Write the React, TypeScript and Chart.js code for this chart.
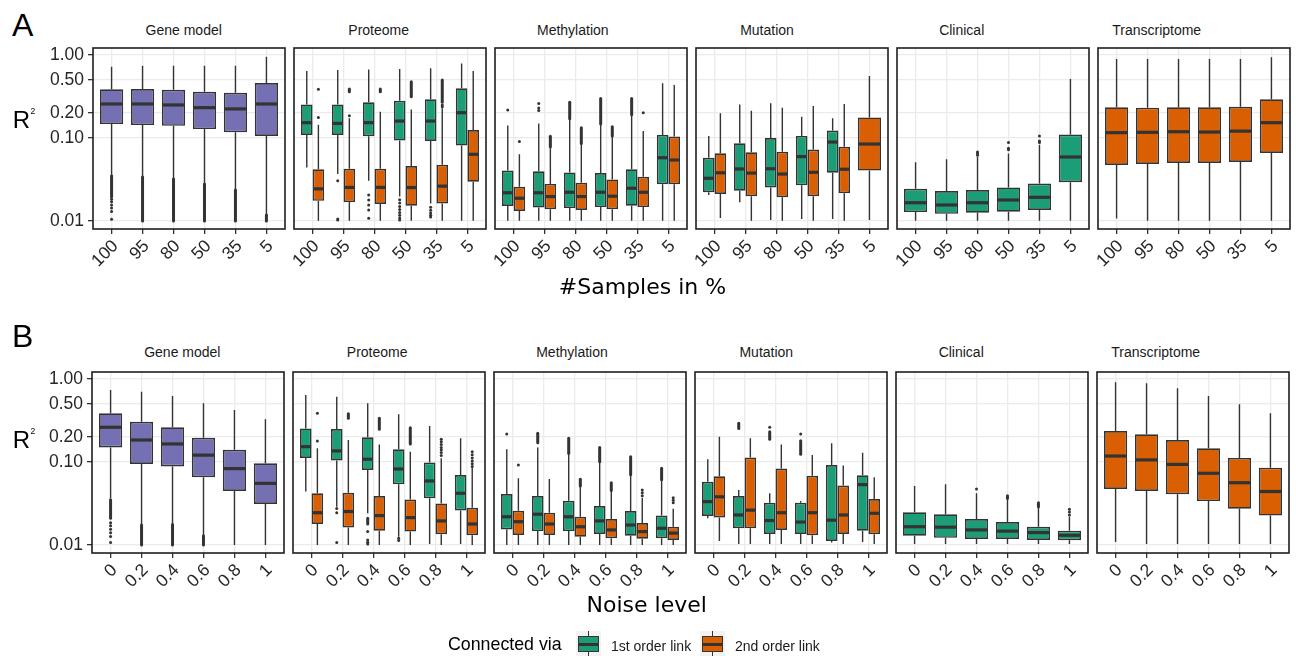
import React, { useEffect, useRef } from "react";
import { Chart, registerables } from "chart.js";

Chart.register(...registerables);

// ---------------- data ----------------
const facetNames = ["Gene model", "Proteome", "Methylation", "Mutation", "Clinical", "Transcriptome"];
const sampleLevels = ["100", "95", "80", "50", "35", "5"];
const noiseLevels = ["0", "0.2", "0.4", "0.6", "0.8", "1"];
const rTicks = [0.01, 0.1, 0.2, 0.5, 1];
const legendLabels = ["1st order link", "2nd order link"];

// each box: [lower whisker, Q1, median, Q3, upper whisker]
// outliers: a number is one point, a [lo, hi] pair is a dense run of points
const samplesGeneModel = [
  [0.036, 0.147, 0.257, 0.386, 0.72],
  [0.034, 0.143, 0.257, 0.39, 0.74],
  [0.032, 0.14, 0.25, 0.382, 0.74],
  [0.028, 0.128, 0.232, 0.361, 0.74],
  [0.0236, 0.117, 0.224, 0.351, 0.74],
  [0.0118, 0.106, 0.257, 0.46, 0.955],
];
const samplesGeneModelOut = [
  [[0.0195, 0.035], 0.0183, 0.0171, 0.0156, 0.0143, 0.013, 0.0105],
  [[0.01, 0.034]],
  [[0.01, 0.032]],
  [[0.01, 0.028]],
  [[0.01, 0.0236]],
  [[0.01, 0.0118]],
];
const samplesProteome1 = [
  [0.044, 0.109, 0.153, 0.254, 0.64],
  [0.0368, 0.109, 0.15, 0.254, 0.659],
  [0.0305, 0.105, 0.153, 0.27, 0.67],
  [0.0197, 0.093, 0.16, 0.281, 0.68],
  [0.0163, 0.092, 0.16, 0.293, 0.69],
  [0.0101, 0.081, 0.202, 0.397, 0.79],
];
const samplesProteome1Out = [
  [],
  [0.0305, 0.0106, 0.0103],
  [0.0206, 0.0179, 0.0156, 0.0136, 0.0108],
  [0.018, 0.0165, 0.015, 0.0138, 0.0127, 0.0117, 0.0109, 0.0103],
  [0.0146, 0.0135, 0.0125, 0.0117, 0.0112],
  [],
];
const samplesProteome2 = [
  [0.0101, 0.0175, 0.0244, 0.042, 0.144],
  [0.0101, 0.0169, 0.0254, 0.0426, 0.173],
  [0.0101, 0.016, 0.0254, 0.0426, 0.207],
  [0.0101, 0.0153, 0.0253, 0.046, 0.221],
  [0.0101, 0.0163, 0.0263, 0.0476, 0.228],
  [0.0101, 0.0298, 0.0636, 0.125, 0.64],
];
const samplesProteome2Out = [
  [0.386, 0.177],
  [[0.36, 0.39], 0.185],
  [[0.36, 0.39]],
  [[0.314, 0.476]],
  [[0.27, 0.5], 0.25, 0.238],
  [],
];
const samplesMethylation1 = [
  [0.0101, 0.0152, 0.0219, 0.0405, 0.141],
  [0.0101, 0.0145, 0.0219, 0.0398, 0.15],
  [0.0101, 0.0143, 0.0222, 0.0385, 0.169],
  [0.0101, 0.0147, 0.0222, 0.0378, 0.144],
  [0.0101, 0.0153, 0.0248, 0.042, 0.184],
  [0.0101, 0.0277, 0.0578, 0.109, 0.456],
];
const samplesMethylation1Out = [
  [0.217],
  [0.26, 0.23, 0.215],
  [[0.17, 0.27]],
  [[0.147, 0.3]],
  [[0.19, 0.3]],
  [],
];
const samplesMethylation2 = [
  [0.0101, 0.0132, 0.0188, 0.0259, 0.0636],
  [0.0101, 0.0139, 0.0197, 0.028, 0.075],
  [0.0101, 0.0136, 0.0197, 0.0289, 0.085],
  [0.0101, 0.0139, 0.0199, 0.0317, 0.104],
  [0.0101, 0.0147, 0.0222, 0.0341, 0.121],
  [0.0101, 0.0277, 0.0543, 0.104, 0.436],
];
const samplesMethylation2Out = [
  [0.0905],
  [[0.078, 0.105]],
  [[0.086, 0.133]],
  [[0.106, 0.137]],
  [0.202],
  [],
];
const samplesMutation1 = [
  [0.0206, 0.0222, 0.0327, 0.0578, 0.106],
  [0.0168, 0.0231, 0.0424, 0.0866, 0.254],
  [0.0103, 0.0253, 0.0426, 0.1, 0.262],
  [0.0106, 0.0269, 0.0597, 0.106, 0.18],
  [0.0106, 0.0381, 0.0894, 0.123, 0.173],
  null,
];
const samplesMutation2 = [
  [0.0109, 0.0212, 0.0381, 0.0654, 0.198],
  [0.0101, 0.0199, 0.0378, 0.0673, 0.213],
  [0.0101, 0.0193, 0.0368, 0.0682, 0.232],
  [0.0101, 0.0199, 0.0386, 0.0725, 0.243],
  [0.0101, 0.0216, 0.042, 0.0785, 0.257],
  [0.0103, 0.0405, 0.0846, 0.177, 0.558],
];
const samplesClinical = [
  [0.0101, 0.0128, 0.0166, 0.0244, 0.051],
  [0.0101, 0.0122, 0.0156, 0.023, 0.0553],
  [0.0101, 0.0126, 0.0166, 0.0236, 0.059],
  [0.0101, 0.0129, 0.0179, 0.0254, 0.065],
  [0.0101, 0.0136, 0.0193, 0.0283, 0.083],
  [0.0101, 0.0293, 0.059, 0.11, 0.514],
];
const samplesClinicalOut = [
  [],
  [],
  [0.068, 0.065, 0.062],
  [0.088, 0.075, 0.072],
  [0.106, 0.092, 0.088],
  [],
];
const samplesTranscriptome = [
  [0.0107, 0.0473, 0.116, 0.235, 0.895],
  [0.0101, 0.0487, 0.117, 0.232, 0.895],
  [0.0101, 0.05, 0.119, 0.235, 0.895],
  [0.0101, 0.05, 0.118, 0.235, 0.895],
  [0.0101, 0.0514, 0.121, 0.238, 0.895],
  [0.0101, 0.0661, 0.153, 0.293, 0.937],
];

const noiseGeneModel = [
  [0.0365, 0.15, 0.262, 0.386, 0.737],
  [0.0174, 0.0946, 0.184, 0.306, 0.703],
  [0.0177, 0.0881, 0.165, 0.262, 0.624],
  [0.0129, 0.0654, 0.121, 0.196, 0.509],
  [0.01, 0.0448, 0.0833, 0.14, 0.423],
  [0.01, 0.0312, 0.0553, 0.0965, 0.327],
];
const noiseGeneModelOut = [
  [[0.021, 0.035], 0.0185, 0.017, 0.0155, 0.014, 0.0127, 0.0107],
  [[0.01, 0.0174]],
  [[0.01, 0.0177]],
  [[0.01, 0.0129]],
  [],
  [],
];
const noiseProteome1 = [
  [0.0442, 0.112, 0.153, 0.254, 0.64],
  [0.0288, 0.104, 0.136, 0.25, 0.612],
  [0.0241, 0.08, 0.108, 0.198, 0.509],
  [0.0126, 0.0538, 0.0824, 0.142, 0.376],
  [0.0103, 0.0365, 0.0591, 0.0983, 0.271],
  [0.0103, 0.026, 0.042, 0.0697, 0.193],
];
const noiseProteome1Out = [
  [],
  [0.0276, 0.0245, 0.0107],
  [[0.0179, 0.021], 0.0145, 0.0115, 0.0108, 0.0103],
  [0.0121, 0.0113],
  [],
  [],
];
const noiseProteome2 = [
  [0.01, 0.0179, 0.0245, 0.042, 0.146],
  [0.01, 0.0163, 0.0253, 0.0426, 0.184],
  [0.01, 0.0149, 0.0226, 0.0389, 0.163],
  [0.01, 0.0145, 0.0214, 0.0354, 0.133],
  [0.01, 0.0135, 0.0195, 0.0317, 0.111],
  [0.01, 0.0131, 0.0179, 0.0281, 0.086],
];
const noiseProteome2Out = [
  [0.386, 0.179],
  [[0.336, 0.38]],
  [[0.248, 0.336]],
  [[0.165, 0.259]],
  [0.188, 0.175, 0.162, 0.15, 0.14, 0.13, 0.12],
  [0.133, 0.122, 0.112, 0.103, 0.095, 0.088],
];
const noiseMethylation1 = [
  [0.01, 0.0154, 0.0219, 0.0411, 0.142],
  [0.01, 0.0147, 0.0235, 0.0389, 0.149],
  [0.01, 0.0147, 0.0219, 0.0341, 0.124],
  [0.01, 0.0136, 0.0195, 0.0295, 0.098],
  [0.01, 0.0129, 0.0174, 0.0256, 0.0682],
  [0.01, 0.0121, 0.0159, 0.0226, 0.0591],
];
const noiseMethylation1Out = [
  [0.217],
  [[0.171, 0.222]],
  [[0.127, 0.193]],
  [[0.101, 0.15]],
  [[0.07, 0.116]],
  [[0.061, 0.084]],
];
const noiseMethylation2 = [
  [0.01, 0.0132, 0.0191, 0.0259, 0.0636],
  [0.01, 0.0132, 0.0179, 0.0245, 0.0624],
  [0.01, 0.0126, 0.0166, 0.0219, 0.0504],
  [0.01, 0.0121, 0.0152, 0.0206, 0.0441],
  [0.01, 0.0119, 0.0145, 0.0184, 0.0372],
  [0.01, 0.0115, 0.0139, 0.0166, 0.0273],
];
const noiseMethylation2Out = [
  [0.0918],
  [],
  [[0.0514, 0.062]],
  [[0.0452, 0.0563]],
  [0.0459, 0.0425, 0.0393],
  [0.0372, 0.0345, 0.0323],
];
const noiseMutation1 = [
  [0.021, 0.0224, 0.0333, 0.0578, 0.108],
  [0.0103, 0.0159, 0.023, 0.0389, 0.0459],
  [0.0103, 0.0136, 0.0197, 0.0323, 0.042],
  [0.0103, 0.0136, 0.0189, 0.0323, 0.0338],
  [0.0107, 0.0112, 0.0199, 0.0918, 0.168],
  [0.0109, 0.0149, 0.0534, 0.069, 0.129],
];
const noiseMutation1Out = [
  [],
  [[0.254, 0.293]],
  [0.262, [0.188, 0.232]],
  [0.217, [0.124, 0.18]],
  [],
  [],
];
const noiseMutation2 = [
  [0.0112, 0.0214, 0.0381, 0.0673, 0.202],
  [0.0103, 0.0159, 0.0263, 0.113, 0.193],
  [0.0103, 0.0152, 0.0245, 0.0833, 0.163],
  [0.0103, 0.0131, 0.0245, 0.0682, 0.121],
  [0.0103, 0.0136, 0.023, 0.052, 0.0905],
  [0.0103, 0.0135, 0.0241, 0.0358, 0.0654],
];
const noiseClinical = [
  [0.0103, 0.0129, 0.0166, 0.0248, 0.0514],
  [0.0103, 0.0122, 0.0164, 0.0235, 0.0538],
  [0.0103, 0.0118, 0.0152, 0.0206, 0.042],
  [0.0103, 0.0118, 0.0147, 0.0189, 0.0358],
  [0.0103, 0.0115, 0.0141, 0.0166, 0.0283],
  [0.0103, 0.0114, 0.0131, 0.0149, 0.0219],
];
const noiseClinicalOut = [
  [],
  [],
  [0.0473],
  [0.0393, 0.0378, 0.0365],
  [0.0323, 0.031, 0.0298, 0.0288],
  [0.0269, 0.025, 0.023],
];
const noiseTranscriptome = [
  [0.0109, 0.0473, 0.118, 0.236, 0.912],
  [0.0103, 0.0448, 0.106, 0.216, 0.887],
  [0.0103, 0.0408, 0.0936, 0.184, 0.772],
  [0.0103, 0.0338, 0.0731, 0.146, 0.624],
  [0.0103, 0.0273, 0.0563, 0.112, 0.496],
  [0.0103, 0.0226, 0.0441, 0.0855, 0.386],
];

// ---------------- styles ----------------
const PURPLE = "#7570B3";
const GREEN = "#1B9E77";
const ORANGE = "#D95F02";
const LINE = "#333333";
const GRID = "#EBEBEB";
const FRAME = "#1F1F1F";
const TEXT = "#1A1A1A";
const TICK_TEXT = "#262626";
const SANS = '"Liberation Sans", Arial, sans-serif';
const DEJAVU = '"DejaVu Sans", sans-serif';

const Y_MIN = 0.00801;
const Y_MAX = 1.214;
const FRAME_W = 192;
const FRAME_H = 181;
const X_AX_H = 60;
const PAD = 3;

type Series = { stats: any[]; out?: any[]; color: string };
type Facet = { series: Series[] };

const rowSamples: Facet[] = [
  { series: [{ stats: samplesGeneModel, out: samplesGeneModelOut, color: PURPLE }] },
  {
    series: [
      { stats: samplesProteome1, out: samplesProteome1Out, color: GREEN },
      { stats: samplesProteome2, out: samplesProteome2Out, color: ORANGE },
    ],
  },
  {
    series: [
      { stats: samplesMethylation1, out: samplesMethylation1Out, color: GREEN },
      { stats: samplesMethylation2, out: samplesMethylation2Out, color: ORANGE },
    ],
  },
  {
    series: [
      { stats: samplesMutation1, color: GREEN },
      { stats: samplesMutation2, color: ORANGE },
    ],
  },
  { series: [{ stats: samplesClinical, out: samplesClinicalOut, color: GREEN }] },
  { series: [{ stats: samplesTranscriptome, color: ORANGE }] },
];

const rowNoise: Facet[] = [
  { series: [{ stats: noiseGeneModel, out: noiseGeneModelOut, color: PURPLE }] },
  {
    series: [
      { stats: noiseProteome1, out: noiseProteome1Out, color: GREEN },
      { stats: noiseProteome2, out: noiseProteome2Out, color: ORANGE },
    ],
  },
  {
    series: [
      { stats: noiseMethylation1, out: noiseMethylation1Out, color: GREEN },
      { stats: noiseMethylation2, out: noiseMethylation2Out, color: ORANGE },
    ],
  },
  {
    series: [
      { stats: noiseMutation1, out: noiseMutation1Out, color: GREEN },
      { stats: noiseMutation2, color: ORANGE },
    ],
  },
  { series: [{ stats: noiseClinical, out: noiseClinicalOut, color: GREEN }] },
  { series: [{ stats: noiseTranscriptome, color: ORANGE }] },
];

// ---------------- box plot drawing plugin ----------------
const boxPlugin: any = {
  id: "boxExtras",
  beforeDatasetsDraw(chart: any) {
    const ctx = chart.ctx;
    const ys = chart.scales.y;
    ctx.save();
    ctx.strokeStyle = LINE;
    ctx.lineWidth = 1.4;
    chart.data.datasets.forEach((ds: any, di: number) => {
      const meta = chart.getDatasetMeta(di);
      ds.stats.forEach((st: any, i: number) => {
        const el: any = meta.data[i];
        if (!st || !el) return;
        ctx.beginPath();
        ctx.moveTo(el.x, ys.getPixelForValue(st[0]));
        ctx.lineTo(el.x, ys.getPixelForValue(st[1]));
        ctx.moveTo(el.x, ys.getPixelForValue(st[3]));
        ctx.lineTo(el.x, ys.getPixelForValue(st[4]));
        ctx.stroke();
      });
    });
    ctx.restore();
  },
  afterDatasetsDraw(chart: any) {
    const ctx = chart.ctx;
    const ys = chart.scales.y;
    ctx.save();
    chart.data.datasets.forEach((ds: any, di: number) => {
      const meta = chart.getDatasetMeta(di);
      ds.stats.forEach((st: any, i: number) => {
        const el: any = meta.data[i];
        if (!st || !el) return;
        const w = el.width;
        const ym = ys.getPixelForValue(st[2]);
        ctx.strokeStyle = LINE;
        ctx.lineWidth = 3.2;
        ctx.lineCap = "butt";
        ctx.beginPath();
        ctx.moveTo(el.x - w / 2 + 0.5, ym);
        ctx.lineTo(el.x + w / 2 - 0.5, ym);
        ctx.stroke();
        const outs = ds.outliers ? ds.outliers[i] || [] : [];
        outs.forEach((o: any) => {
          if (Array.isArray(o)) {
            ctx.lineWidth = 3;
            ctx.lineCap = "round";
            ctx.beginPath();
            ctx.moveTo(el.x, ys.getPixelForValue(o[0]));
            ctx.lineTo(el.x, ys.getPixelForValue(o[1]));
            ctx.stroke();
          } else {
            ctx.fillStyle = LINE;
            ctx.beginPath();
            ctx.arc(el.x, ys.getPixelForValue(o), 1.5, 0, Math.PI * 2);
            ctx.fill();
          }
        });
      });
    });
    ctx.restore();
  },
  afterDraw(chart: any) {
    const a = chart.chartArea;
    const ctx = chart.ctx;
    ctx.save();
    ctx.strokeStyle = FRAME;
    ctx.lineWidth = 1.6;
    ctx.strokeRect(a.left, a.top, a.right - a.left, a.bottom - a.top);
    ctx.restore();
  },
};

type PanelProps = {
  frameLeft: number;
  frameTop: number;
  yAxW: number;
  showY: boolean;
  labels: string[];
  facet: Facet;
};

function Panel({ frameLeft, frameTop, yAxW, showY, labels, facet }: PanelProps) {
  const ref = useRef<HTMLCanvasElement | null>(null);
  const width = yAxW + FRAME_W + PAD;
  const height = PAD + FRAME_H + X_AX_H;

  useEffect(() => {
    if (!ref.current) return;
    const datasets = facet.series.map((s) => ({
      data: s.stats.map((st: any, i: number) => ({ x: i + 1, y: st ? [st[1], st[3]] : null })),
      stats: s.stats,
      outliers: s.out,
      backgroundColor: s.color,
      borderColor: LINE,
      borderWidth: 1.7,
      borderSkipped: false,
      categoryPercentage: 0.75,
      barPercentage: 1,
      skipNull: true,
      grouped: true,
    }));
    const tickFont = { family: SANS, size: 17.5 };
    const chart = new Chart(ref.current, {
      type: "bar",
      data: { datasets } as any,
      plugins: [boxPlugin],
      options: {
        animation: false,
        responsive: false,
        maintainAspectRatio: false,
        devicePixelRatio: 1,
        events: [],
        layout: { padding: { top: PAD, right: PAD, left: 0, bottom: 0 } },
        plugins: { legend: { display: false }, tooltip: { enabled: false } },
        scales: {
          x: {
            type: "linear",
            min: 0.4,
            max: 6.6,
            offset: false,
            afterBuildTicks: (s: any) => {
              s.ticks = labels.map((_, i) => ({ value: i + 1 }));
            },
            afterFit: (s: any) => {
              s.height = X_AX_H;
              s.paddingLeft = 0;
              s.paddingRight = 0;
            },
            ticks: {
              autoSkip: false,
              maxRotation: 45,
              minRotation: 45,
              padding: 2,
              labelOffset: 4,
              font: tickFont,
              color: TICK_TEXT,
              callback: (v: any) => labels[Math.round(Number(v)) - 1] ?? "",
            },
            grid: {
              offset: false,
              color: GRID,
              lineWidth: 1.3,
              drawTicks: true,
              tickLength: 5,
              tickColor: LINE,
              tickWidth: 1.3,
            },
            border: { display: false },
          },
          y: {
            type: "logarithmic",
            min: Y_MIN,
            max: Y_MAX,
            afterBuildTicks: (s: any) => {
              s.ticks = rTicks.map((v) => ({ value: v }));
            },
            afterFit: (s: any) => {
              s.width = yAxW;
              s.paddingTop = 0;
              s.paddingBottom = 0;
            },
            ticks: {
              display: showY,
              autoSkip: false,
              padding: 4,
              font: tickFont,
              color: TICK_TEXT,
              callback: (v: any) => Number(v).toFixed(2),
            },
            grid: {
              color: GRID,
              lineWidth: 1.3,
              drawTicks: showY,
              tickLength: 5,
              tickColor: LINE,
              tickWidth: 1.3,
            },
            border: { display: false },
          },
        },
      } as any,
    });
    return () => chart.destroy();
  }, []);

  return (
    <canvas
      ref={ref}
      width={width}
      height={height}
      style={{
        position: "absolute",
        left: frameLeft - yAxW,
        top: frameTop - PAD,
        width,
        height,
      }}
    />
  );
}

function Txt(props: {
  x: number;
  y: number;
  size: number;
  family?: string;
  align?: "left" | "center";
  color?: string;
  children: any;
}) {
  const { x, y, size, family = SANS, align = "left", color = TEXT, children } = props;
  const style: any = {
    position: "absolute",
    top: y - 0.846 * size,
    fontFamily: family,
    fontSize: size,
    lineHeight: 1,
    color,
    whiteSpace: "nowrap",
  };
  if (align === "center") {
    style.left = x - 300;
    style.width = 600;
    style.textAlign = "center";
  } else {
    style.left = x;
  }
  return <div style={style}>{children}</div>;
}

function LegendKey({ x, color }: { x: number; color: string }) {
  return (
    <div style={{ position: "absolute", left: x, top: 631, width: 25, height: 25, background: "#F2F2F2" }}>
      <div style={{ position: "absolute", left: 12, top: 0, width: 1.4, height: 25, background: LINE }} />
      <div
        style={{
          position: "absolute",
          left: 2,
          top: 5,
          width: 21,
          height: 16,
          boxSizing: "border-box",
          background: color,
          border: `1.6px solid ${LINE}`,
        }}
      />
      <div style={{ position: "absolute", left: 2, top: 11.5, width: 21, height: 3, background: LINE }} />
    </div>
  );
}

const ROW_A_LEFT = 93;
const ROW_B_LEFT = 92;
const PANEL_STEP = 201;
const ROW_A_TOP = 48;
const ROW_B_TOP = 372;
const titleCentersA = [183.7, 378.7, 572.8, 767, 961.7, 1156.7];
const titleCentersB = [182.3, 377.2, 572, 766.3, 961.2, 1155.7];

export default function App() {
  const rows = [
    { facets: rowSamples, left: ROW_A_LEFT, top: ROW_A_TOP, labels: sampleLevels, titles: titleCentersA, titleBase: 34.5 },
    { facets: rowNoise, left: ROW_B_LEFT, top: ROW_B_TOP, labels: noiseLevels, titles: titleCentersB, titleBase: 356.7 },
  ];
  return (
    <div
      style={{
        position: "absolute",
        left: 0,
        top: 0,
        width: 1296,
        height: 656,
        background: "#ffffff",
        overflow: "hidden",
      }}
    >
      {rows.map((row, r) =>
        row.facets.map((facet, p) => {
          const frameLeft = row.left + p * PANEL_STEP;
          const yAxW = p === 0 ? frameLeft : 40;
          return (
            <Panel
              key={`${r}-${p}`}
              frameLeft={frameLeft}
              frameTop={row.top}
              yAxW={yAxW}
              showY={p === 0}
              labels={row.labels}
              facet={facet}
            />
          );
        })
      )}
      {rows.map((row, r) =>
        facetNames.map((name, p) => (
          <Txt key={`t${r}-${p}`} x={row.titles[p]} y={row.titleBase} size={14} align="center">
            {name}
          </Txt>
        ))
      )}
      <Txt x={12} y={36.5} size={32} color="#000">A</Txt>
      <Txt x={12} y={347.5} size={32} color="#000">B</Txt>
      <Txt x={12.7} y={128.3} size={24} color="#000">R</Txt>
      <Txt x={30.5} y={114} size={8.5} color="#000">2</Txt>
      <Txt x={12.7} y={448.3} size={24} color="#000">R</Txt>
      <Txt x={30.5} y={434} size={8.5} color="#000">2</Txt>
      <Txt x={642.5} y={295} size={22} family={DEJAVU} align="center" color="#000">#Samples in %</Txt>
      <Txt x={646.7} y={613} size={22} family={DEJAVU} align="center" color="#000">Noise level</Txt>
      <Txt x={448} y={651.5} size={17.8} color="#000">Connected via</Txt>
      <LegendKey x={575.5} color={GREEN} />
      <Txt x={611} y={650.5} size={14}>{legendLabels[0]}</Txt>
      <LegendKey x={700} color={ORANGE} />
      <Txt x={735} y={650.5} size={14}>{legendLabels[1]}</Txt>
    </div>
  );
}
